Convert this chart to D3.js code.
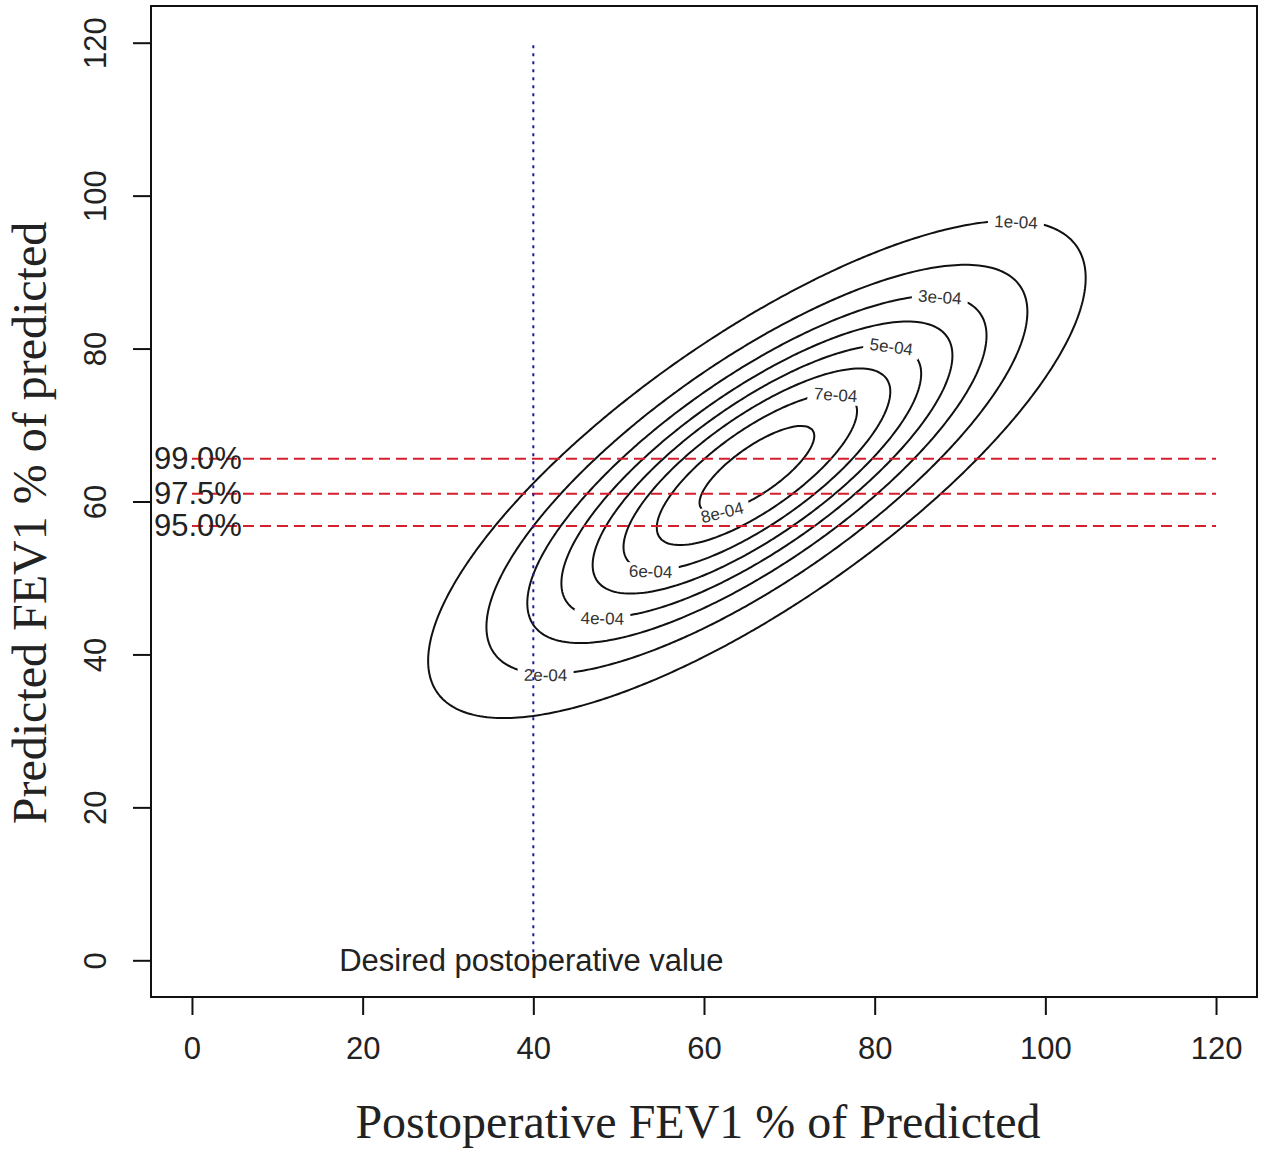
<!DOCTYPE html>
<html>
<head>
<meta charset="utf-8">
<script src="https://cdn.jsdelivr.net/npm/d3@7"></script>
<style>
  html, body { margin: 0; padding: 0; background: #ffffff; }
  svg { display: block; }
</style>
</head>
<body>
<div id="chart"></div>
<script>
(function () {
  var width  = 1265;
  var height = 1150;

  // bivariate normal (mean, sd, correlation)
  var meanXY   = [66, 64];
  var sdXY     = [18.6, 15.7];
  var rho      = 0.77;

  var levels      = [1e-4, 2e-4, 3e-4, 4e-4, 5e-4, 6e-4, 7e-4, 8e-4];
  var levelLabels = ["1e-04", "2e-04", "3e-04", "4e-04", "5e-04", "6e-04", "7e-04", "8e-04"];
  // where each contour label sits (approx, data units)
  var labelX = [95.9, 41.3, 87.0, 48.3, 80.9, 54.2, 74.0, 62.9];
  var labelY = [95.8, 37.1, 86.0, 44.9, 79.1, 51.3, 72.4, 59.6];

  var cutValues = [65.6, 61.0, 56.8];
  var cutLabels = ["99.0%", "97.5%", "95.0%"];
  var desiredX  = 40;

  var ticks = [0, 20, 40, 60, 80, 100, 120];

  var box = { left: 151, right: 1257, top: 6, bottom: 997 };

  var x = d3.scaleLinear().domain([-4.8, 124.8]).range([box.left, box.right]);
  var y = d3.scaleLinear().domain([-4.8, 124.8]).range([box.bottom, box.top]);

  var svg = d3.select("#chart").append("svg")
    .attr("width", width)
    .attr("height", height);

  function density(px, py) {
    var u = (px - meanXY[0]) / sdXY[0];
    var v = (py - meanXY[1]) / sdXY[1];
    var q = (u * u - 2 * rho * u * v + v * v) / (1 - rho * rho);
    return Math.exp(-q / 2) / (2 * Math.PI * sdXY[0] * sdXY[1] * Math.sqrt(1 - rho * rho));
  }
  function qform(dx, dy) {
    var u = dx / sdXY[0], v = dy / sdXY[1];
    return (u * u - 2 * rho * u * v + v * v) / (1 - rho * rho);
  }

  // density grid
  var x0 = -4.8, step = 0.4;
  var n = Math.round(129.6 / step) + 1;
  var grid = new Array(n * n);
  for (var j = 0; j < n; j++) {
    for (var i = 0; i < n; i++) {
      grid[j * n + i] = density(x0 + i * step, x0 + j * step);
    }
  }
  var contours = d3.contours().size([n, n]).thresholds(levels)(grid);

  var path = d3.geoPath(d3.geoTransform({
    point: function (gx, gy) {
      this.stream.point(x(x0 + gx * step), y(x0 + gy * step));
    }
  }));

  svg.append("g")
    .selectAll("path")
    .data(contours)
    .enter().append("path")
    .attr("d", path)
    .attr("fill", "none")
    .attr("stroke", "#111")
    .attr("stroke-width", 2);

  // contour labels: snap to the level and turn along the line
  var fmax = density(meanXY[0], meanXY[1]);
  var labs = levels.map(function (lv, k) {
    var dx = labelX[k] - meanXY[0], dy = labelY[k] - meanXY[1];
    var qLevel = 2 * Math.log(fmax / lv);
    var s = Math.sqrt(qLevel / qform(dx, dy));
    var lx = meanXY[0] + dx * s, ly = meanXY[1] + dy * s;
    var u = (lx - meanXY[0]) / sdXY[0], v = (ly - meanXY[1]) / sdXY[1];
    var gx = (u - rho * v) / sdXY[0], gy = (v - rho * u) / sdXY[1];
    // tangent in pixel space
    var tx = -gy * (x(1) - x(0)), ty = gx * (y(1) - y(0));
    var ang = Math.atan2(ty, tx) * 180 / Math.PI;
    if (ang > 90) ang -= 180;
    if (ang < -90) ang += 180;
    return { text: levelLabels[k], px: x(lx), py: y(ly), angle: ang };
  });

  var labG = svg.append("g")
    .selectAll("g")
    .data(labs)
    .enter().append("g")
    .attr("transform", function (d) {
      return "translate(" + d.px + "," + d.py + ") rotate(" + d.angle + ")";
    });

  labG.append("rect")
    .attr("x", -28).attr("y", -9)
    .attr("width", 56).attr("height", 18)
    .attr("fill", "#ffffff");

  labG.append("text")
    .text(function (d) { return d.text; })
    .attr("text-anchor", "middle")
    .attr("dominant-baseline", "central")
    .attr("font-family", "Liberation Sans, Arial, sans-serif")
    .attr("font-size", "17px")
    .attr("fill", "#333");

  // percentile cut lines
  svg.append("g")
    .selectAll("line")
    .data(cutValues)
    .enter().append("line")
    .attr("x1", x(0)).attr("x2", x(120))
    .attr("y1", function (d) { return y(d); })
    .attr("y2", function (d) { return y(d); })
    .attr("stroke", "#d41f2c")
    .attr("stroke-width", 2)
    .attr("stroke-dasharray", "11,6");

  svg.append("g")
    .selectAll("text")
    .data(cutValues)
    .enter().append("text")
    .text(function (d, k) { return cutLabels[k]; })
    .attr("x", x(0.7))
    .attr("y", function (d) { return y(d); })
    .attr("text-anchor", "middle")
    .attr("dominant-baseline", "central")
    .attr("font-family", "Liberation Sans, Arial, sans-serif")
    .attr("font-size", "31px")
    .attr("fill", "#222");

  // desired value line
  svg.append("line")
    .attr("x1", x(desiredX)).attr("x2", x(desiredX))
    .attr("y1", y(0)).attr("y2", y(120))
    .attr("stroke", "#1c1ca6")
    .attr("stroke-width", 2)
    .attr("stroke-dasharray", "3,5");

  svg.append("text")
    .text("Desired postoperative value")
    .attr("x", x(desiredX) - 2)
    .attr("y", y(0))
    .attr("text-anchor", "middle")
    .attr("dominant-baseline", "central")
    .attr("font-family", "Liberation Sans, Arial, sans-serif")
    .attr("font-size", "31px")
    .attr("fill", "#222");

  // box
  svg.append("rect")
    .attr("x", box.left).attr("y", box.top)
    .attr("width", box.right - box.left)
    .attr("height", box.bottom - box.top)
    .attr("fill", "none")
    .attr("stroke", "#111")
    .attr("stroke-width", 2);

  // axes
  var xAxis = svg.append("g")
    .attr("transform", "translate(0," + box.bottom + ")")
    .call(d3.axisBottom(x).tickValues(ticks).tickSize(18).tickPadding(22));
  xAxis.select(".domain").remove();

  var yAxis = svg.append("g")
    .attr("transform", "translate(" + box.left + ",0)")
    .call(d3.axisLeft(y).tickValues(ticks).tickSize(18).tickPadding(0));
  yAxis.select(".domain").remove();

  svg.selectAll(".tick line").attr("stroke", "#111").attr("stroke-width", 2);
  svg.selectAll(".tick text")
    .attr("font-family", "Liberation Sans, Arial, sans-serif")
    .attr("font-size", "31px")
    .attr("fill", "#222");

  yAxis.selectAll(".tick text")
    .attr("x", null).attr("dy", null)
    .attr("text-anchor", "middle")
    .attr("dominant-baseline", "central")
    .attr("transform", "translate(-56,0) rotate(-90)");

  // axis titles
  svg.append("text")
    .text("Postoperative FEV1 % of Predicted")
    .attr("x", 698)
    .attr("y", 1138)
    .attr("text-anchor", "middle")
    .attr("font-family", "Liberation Serif, Times New Roman, serif")
    .attr("font-size", "48px")
    .attr("fill", "#222");

  svg.append("text")
    .text("Predicted FEV1 % of predicted")
    .attr("transform", "translate(46,523) rotate(-90)")
    .attr("text-anchor", "middle")
    .attr("font-family", "Liberation Serif, Times New Roman, serif")
    .attr("font-size", "48px")
    .attr("fill", "#222");
})();
</script>
</body>
</html>
